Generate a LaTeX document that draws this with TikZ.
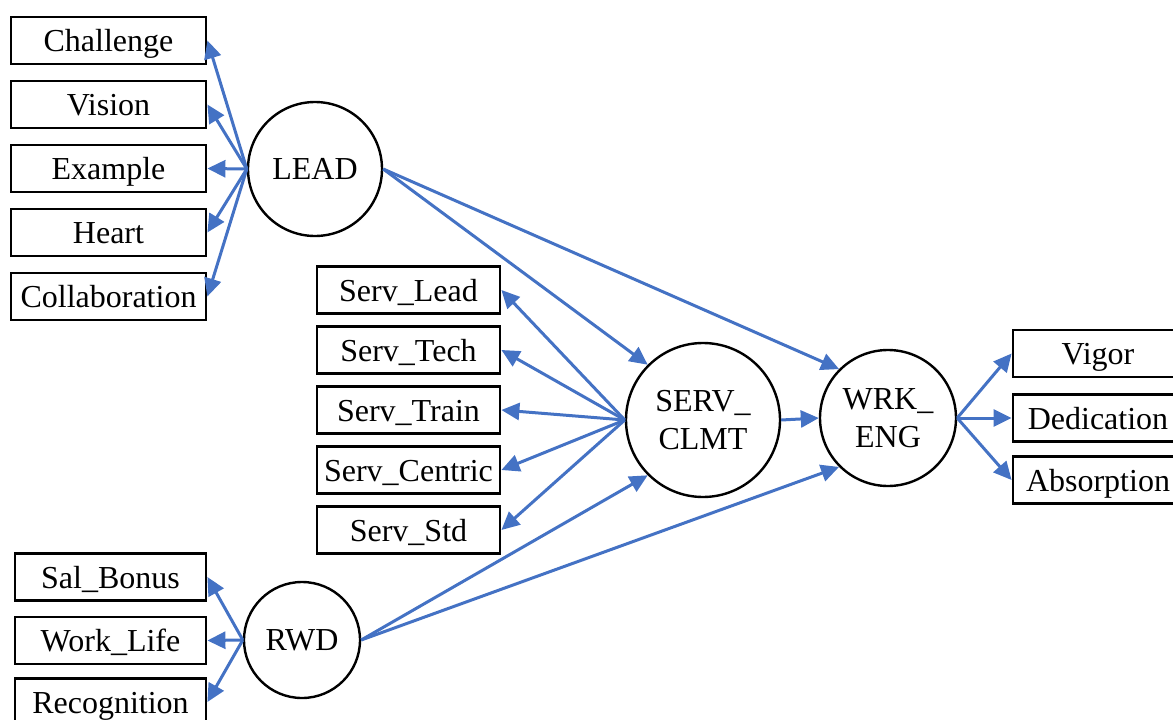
\documentclass[tikz,border=0pt]{standalone}
\usepackage{fontspec}
\setmainfont{Liberation Serif}
\usetikzlibrary{arrows.meta}
\definecolor{myblue}{HTML}{4472C4}
\begin{document}
\begin{tikzpicture}[x=1pt,y=-1pt,
  obs/.style={draw, line width=2.8pt, inner sep=0pt, minimum height=47pt,
    text height=22pt, text depth=0pt, font=\fontsize{32}{38}\selectfont},
  lat/.style={circle, draw, line width=2.4pt, inner sep=0pt,
    font=\fontsize{32}{38}\selectfont, align=center},
  arr/.style={draw=myblue, line width=3pt, -{Triangle[length=18pt,width=17pt]}}]
\useasboundingbox (0,0) rectangle (1173,720);
% left top group
\node[obs, minimum width=195pt] (ch) at (108.5,40.5) {Challenge};
\node[obs, minimum width=195pt] (vi) at (108.5,104.5) {Vision};
\node[obs, minimum width=195pt] (ex) at (108.5,168.5) {Example};
\node[obs, minimum width=195pt] (he) at (108.5,232.5) {Heart};
\node[obs, minimum width=195pt] (co) at (108.5,296.5) {Collaboration};
% serv group
\node[obs, minimum width=183pt] (sl) at (408.5,290) {Serv\_Lead};
\node[obs, minimum width=183pt] (st) at (408.5,350) {Serv\_Tech};
\node[obs, minimum width=183pt] (sr) at (408.5,410) {Serv\_Train};
\node[obs, minimum width=183pt] (sc) at (408.5,470) {Serv\_Centric};
\node[obs, minimum width=183pt] (sd) at (408.5,530) {Serv\_Std};
% reward group
\node[obs, minimum width=191pt] (sb) at (110.5,577) {Sal\_Bonus};
\node[obs, minimum width=191pt] (wl) at (110.5,640.5) {Work\_Life};
\node[obs, minimum width=191pt] (rc) at (110.5,702) {Recognition};
% right group
\node[obs, minimum width=170pt] (vg) at (1098,353.5) {Vigor};
\node[obs, minimum width=170pt] (de) at (1098,418) {Dedication};
\node[obs, minimum width=170pt] (ab) at (1098,480) {Absorption};
% latent
\node[lat, minimum size=134pt] (lead) at (315,169) {LEAD};
\node[lat, minimum size=154pt] (serv) at (703,420) {SERV\_\\CLMT};
\node[lat, minimum size=136pt] (wrk) at (888,418) {WRK\_\\ENG};
\node[lat, minimum size=116pt] (rwd) at (302,640) {RWD};
% loadings
\foreach \b in {ch,vi,ex,he,co} \draw[arr] (lead.west) -- (\b.east);
\foreach \b in {sl,st,sr,sc,sd} \draw[arr] (serv.west) -- (\b.east);
\foreach \b in {sb,wl,rc} \draw[arr] (rwd.west) -- (\b.east);
\foreach \b in {vg,de,ab} \draw[arr] (wrk.east) -- (\b.west);
% structural
\draw[arr] (lead.east) -- (serv.north west);
\draw[arr] (lead.east) -- (wrk.north west);
\draw[arr] (rwd.east) -- (serv.south west);
\draw[arr] (rwd.east) -- (wrk.south west);
\draw[arr] (serv.east) -- (wrk.west);
\end{tikzpicture}
\end{document}
